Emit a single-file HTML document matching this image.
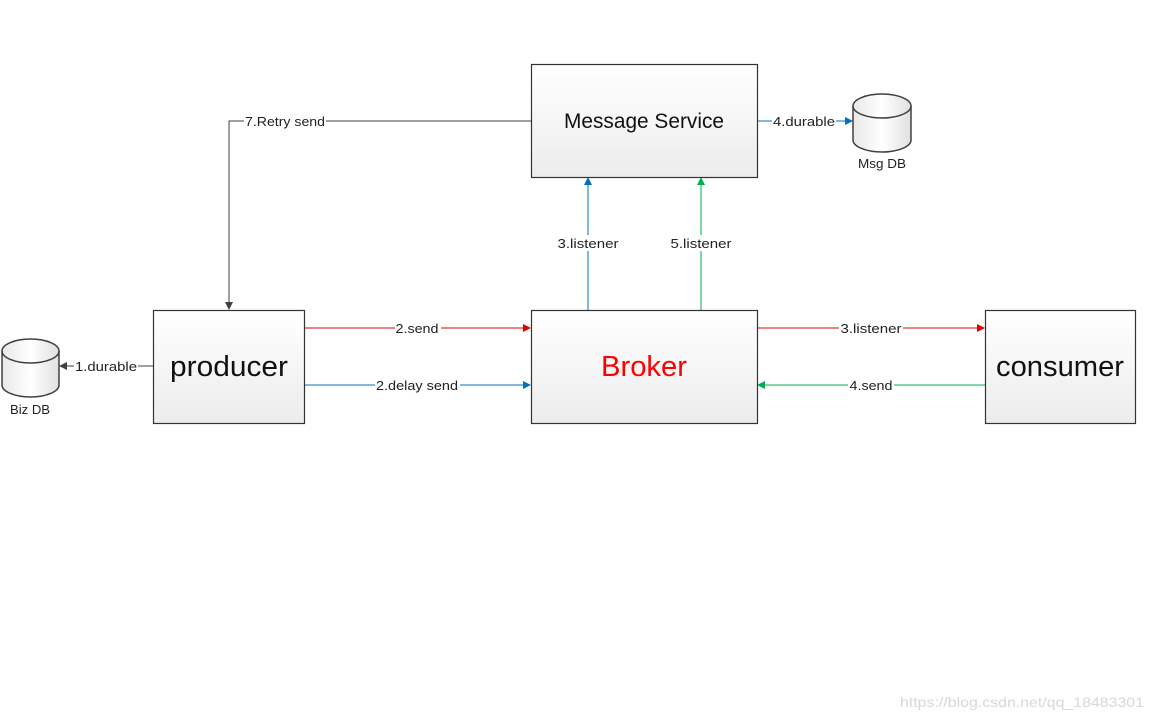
<!DOCTYPE html>
<html><head><meta charset="utf-8"><style>
html,body{margin:0;padding:0;background:#fff;}
svg{display:block;font-family:"Liberation Sans",sans-serif;}
</style></head><body>
<svg width="1152" height="720" viewBox="0 0 1152 720" xmlns="http://www.w3.org/2000/svg">
<defs>
<linearGradient id="g" x1="0" y1="0" x2="0" y2="1"><stop offset="0" stop-color="#ffffff"/><stop offset="1" stop-color="#ececec"/></linearGradient>
<linearGradient id="c" x1="0" y1="0" x2="1" y2="0"><stop offset="0" stop-color="#e8e8e8"/><stop offset="0.5" stop-color="#ffffff"/><stop offset="1" stop-color="#e0e0e0"/></linearGradient>
<marker id="ak" markerWidth="8" markerHeight="8" refX="7" refY="4" orient="auto" markerUnits="userSpaceOnUse"><path d="M0,0 L8,4 L0,8 Z" fill="#404040"/></marker>
<marker id="ar" markerWidth="8" markerHeight="8" refX="7" refY="4" orient="auto" markerUnits="userSpaceOnUse"><path d="M0,0 L8,4 L0,8 Z" fill="#e00000"/></marker>
<marker id="ab" markerWidth="8" markerHeight="8" refX="7" refY="4" orient="auto" markerUnits="userSpaceOnUse"><path d="M0,0 L8,4 L0,8 Z" fill="#0070c0"/></marker>
<marker id="ag" markerWidth="8" markerHeight="8" refX="7" refY="4" orient="auto" markerUnits="userSpaceOnUse"><path d="M0,0 L8,4 L0,8 Z" fill="#00b050"/></marker>
</defs>
<g fill="none" stroke-width="1">
<path d="M531,121 H229 V309" stroke="#404040" marker-end="url(#ak)"/>
<path d="M757,121 H852" stroke="#0070c0" marker-end="url(#ab)"/>
<path d="M588,310 V178" stroke="#0070c0" marker-end="url(#ab)"/>
<path d="M701,310 V178" stroke="#00b050" marker-end="url(#ag)"/>
<path d="M304,328 H530" stroke="#e00000" marker-end="url(#ar)"/>
<path d="M304,385 H530" stroke="#0070c0" marker-end="url(#ab)"/>
<path d="M757,328 H984" stroke="#e00000" marker-end="url(#ar)"/>
<path d="M985,385 H758" stroke="#00b050" marker-end="url(#ag)"/>
<path d="M153,366 H60" stroke="#404040" marker-end="url(#ak)"/>
</g>
<g stroke="#333" stroke-width="1.2" fill="url(#g)">
<rect x="531.5" y="64.5" width="226" height="113"/>
<rect x="153.5" y="310.5" width="151" height="113"/>
<rect x="531.5" y="310.5" width="226" height="113"/>
<rect x="985.5" y="310.5" width="150" height="113"/>
</g>
<g stroke="#404040" stroke-width="1.5" fill="url(#c)">
<path d="M853,106 V140 A29,12 0 0 0 911,140 V106 A29,12 0 0 0 853,106 Z"/>
<path d="M853,106 A29,12 0 0 0 911,106" fill="none"/>
<path d="M2,351 V385 A28.5,12 0 0 0 59,385 V351 A28.5,12 0 0 0 2,351 Z"/>
<path d="M2,351 A28.5,12 0 0 0 59,351" fill="none"/>
</g>
<g font-size="21" fill="#111" text-anchor="middle">
<text x="644" y="128" textLength="160" lengthAdjust="spacingAndGlyphs">Message Service</text>
</g>
<g font-size="29" text-anchor="middle">
<text x="229" y="376" fill="#111" textLength="118" lengthAdjust="spacingAndGlyphs">producer</text>
<text x="644" y="376" fill="#ff0000" textLength="86" lengthAdjust="spacingAndGlyphs">Broker</text>
<text x="1060" y="376" fill="#111" textLength="128" lengthAdjust="spacingAndGlyphs">consumer</text>
</g>
<g font-size="13" fill="#222" text-anchor="middle">
<rect x="244" y="113" width="82" height="16" fill="#fff"/>
<text x="285" y="126" textLength="80" lengthAdjust="spacingAndGlyphs">7.Retry send</text>
<rect x="772" y="113" width="64" height="16" fill="#fff"/>
<text x="804" y="126" textLength="62" lengthAdjust="spacingAndGlyphs">4.durable</text>
<text x="882" y="168" textLength="48" lengthAdjust="spacingAndGlyphs">Msg DB</text>
<rect x="556" y="235" width="64" height="16" fill="#fff"/>
<text x="588" y="248" textLength="61" lengthAdjust="spacingAndGlyphs">3.listener</text>
<rect x="669" y="235" width="64" height="16" fill="#fff"/>
<text x="701" y="248" textLength="61" lengthAdjust="spacingAndGlyphs">5.listener</text>
<rect x="395" y="320" width="46" height="16" fill="#fff"/>
<text x="417" y="333" textLength="43" lengthAdjust="spacingAndGlyphs">2.send</text>
<rect x="375" y="377" width="85" height="16" fill="#fff"/>
<text x="417" y="390" textLength="82" lengthAdjust="spacingAndGlyphs">2.delay send</text>
<rect x="839" y="320" width="64" height="16" fill="#fff"/>
<text x="871" y="333" textLength="61" lengthAdjust="spacingAndGlyphs">3.listener</text>
<rect x="848" y="377" width="46" height="16" fill="#fff"/>
<text x="871" y="390" textLength="43" lengthAdjust="spacingAndGlyphs">4.send</text>
<rect x="74" y="358" width="64" height="16" fill="#fff"/>
<text x="106" y="371" textLength="62" lengthAdjust="spacingAndGlyphs">1.durable</text>
<text x="30" y="414" textLength="40" lengthAdjust="spacingAndGlyphs">Biz DB</text>
</g>
<text x="1144" y="707" font-size="14" fill="#d8d8d8" text-anchor="end" textLength="244" lengthAdjust="spacingAndGlyphs">https://blog.csdn.net/qq_18483301</text>
</svg>
</body></html>
